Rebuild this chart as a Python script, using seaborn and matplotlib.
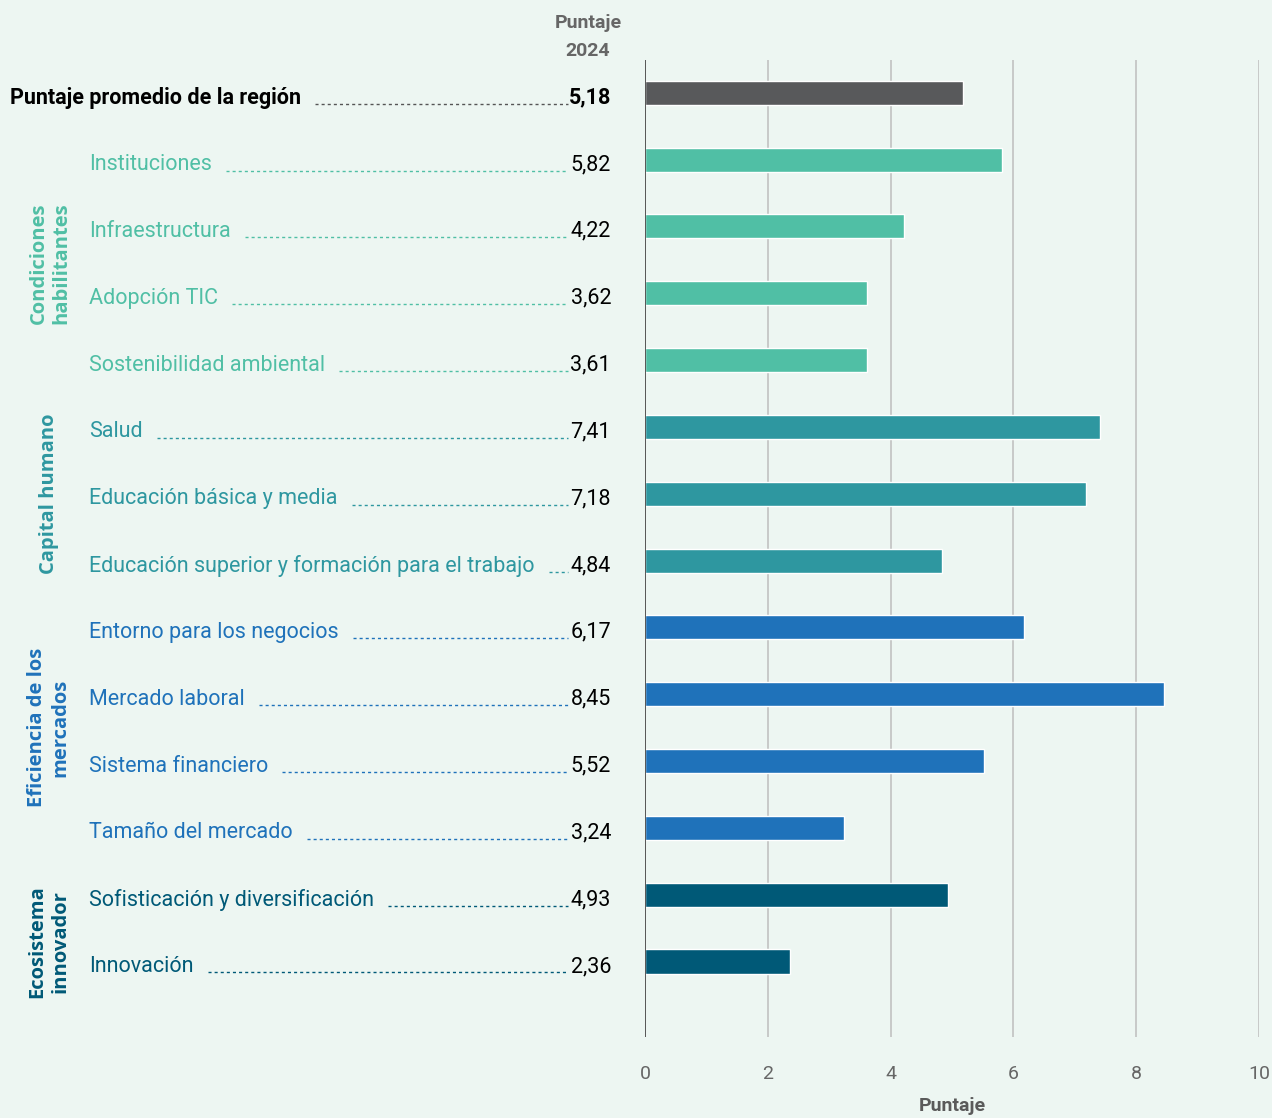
import matplotlib
matplotlib.use("Agg")
import matplotlib.pyplot as plt
import matplotlib.transforms as mtransforms
import seaborn as sns
import pandas as pd
from matplotlib.lines import Line2D

labels = ["Puntaje promedio de la región", "Instituciones", "Infraestructura", "Adopción TIC",
          "Sostenibilidad ambiental", "Salud", "Educación básica y media",
          "Educación superior y formación para el trabajo", "Entorno para los negocios",
          "Mercado laboral", "Sistema financiero", "Tamaño del mercado",
          "Sofisticación y diversificación", "Innovación"]
values = [5.18, 5.82, 4.22, 3.62, 3.61, 7.41, 7.18, 4.84, 6.17, 8.45, 5.52, 3.24, 4.93, 2.36]
groups = ["Promedio", "Condiciones", "Condiciones", "Condiciones", "Condiciones",
          "Capital", "Capital", "Capital", "Eficiencia", "Eficiencia", "Eficiencia", "Eficiencia",
          "Ecosistema", "Ecosistema"]
group_titles = {"Condiciones": "Condiciones\nhabilitantes", "Capital": "Capital humano",
                "Eficiencia": "Eficiencia de los\nmercados", "Ecosistema": "Ecosistema\ninnovador"}
palette = {"Promedio": "#58595B", "Condiciones": "#50BFA5", "Capital": "#2E97A0",
           "Eficiencia": "#1F72BA", "Ecosistema": "#005977"}
xticks = [0, 2, 4, 6, 8, 10]

BG = "#EDF6F2"
sns.set_style("white")
plt.rcParams["font.family"] = ["Roboto", "DejaVu Sans"]

W, H = 1272, 1118
fig = plt.figure(figsize=(W / 100, H / 100), dpi=100, facecolor=BG)
ax = fig.add_axes([645 / W, 1 - 1037 / H, (1259 - 645) / W, (1037 - 60) / H])
ax.set_facecolor(BG)

df = pd.DataFrame({"label": labels, "value": values, "group": groups})
sns.barplot(data=df, x="value", y="label", hue="group", palette=palette, dodge=False,
            width=0.36, ax=ax, legend=False, saturation=1, order=labels)

ax.set_xlim(0, 10)
ax.set_ylim(len(labels) - 1 + 1.13, -0.49)
ax.set_xticks(xticks)
ax.set_xticklabels([str(t) for t in xticks], fontsize=14, color="#666666")
ax.tick_params(axis="x", length=0, pad=20)
ax.set_yticks([])
ax.set_ylabel("")
ax.set_xlabel("Puntaje", fontsize=14, fontweight="bold", color="#5a5a5a", va="center")
ax.xaxis.set_label_coords(0.5, -(1106 - 1037) / (1037 - 60))
for s in ax.spines.values():
    s.set_visible(False)
for t in xticks[1:]:
    ax.axvline(t, color="#BDBDBD", lw=1.1, zorder=0)
ax.axvline(0, color="#555555", lw=1.4, zorder=3)
ax.set_axisbelow(True)

# header
fig.text(588 / W, 1 - 37 / H, "Puntaje\n2024", ha="center", va="center", fontsize=14,
         fontweight="bold", color="#666666", linespacing=1.7)

trans = mtransforms.blended_transform_factory(fig.transFigure, ax.transData)
offset = mtransforms.ScaledTranslation(0, -5 / 100, fig.dpi_scale_trans)
ttrans = trans + offset

texts = []
for i, (lab, val, g) in enumerate(zip(labels, values, groups)):
    if g == "Promedio":
        t = ax.text(10 / W, i, lab, transform=ttrans, ha="left", va="center", fontsize=15.5,
                    fontweight="bold", color="black")
        lc = "#555555"
    else:
        t = ax.text(89 / W, i, lab, transform=ttrans, ha="left", va="center", fontsize=15.5,
                    color=palette[g])
        lc = palette[g]
    ax.text(611 / W, i, f"{val:.2f}".replace(".", ","), transform=ttrans, ha="right",
            va="center", fontsize=15.5, color="black",
            fontweight="bold" if g == "Promedio" else "normal")
    texts.append((t, i, lc))

fig.canvas.draw()
renderer = fig.canvas.get_renderer()
for t, i, lc in texts:
    bb = t.get_window_extent(renderer)
    x0 = bb.x1 + 14
    ydisp = ax.transData.transform((0, i))[1] - 11
    line = Line2D([x0 / W, 568 / W], [ydisp / H, ydisp / H], transform=fig.transFigure,
                  color=lc, lw=1, linestyle=(0, (2.2, 2.2)))
    fig.add_artist(line)

# group labels
grp_pos = {"Condiciones": (50, 2.55), "Capital": (49, 6), "Eficiencia": (49, 9.5),
           "Ecosistema": (49, 12.7)}
for g, (xp, yc) in grp_pos.items():
    ax.text(xp / W, yc, group_titles[g], transform=trans, rotation=90, ha="center",
            va="center", fontsize=14.5, fontweight="bold", color=palette[g],
            family=["Open Sans", "DejaVu Sans"], linespacing=1.2, multialignment="center")

fig.savefig("out.png", dpi=100, facecolor=BG)
